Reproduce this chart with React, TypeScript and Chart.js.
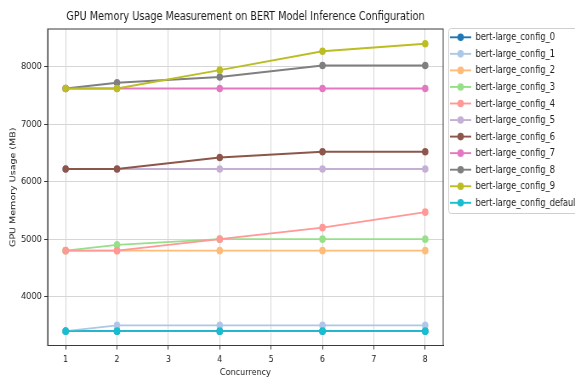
import React, { useEffect, useRef } from "react";
import { Chart, registerables } from "chart.js";

Chart.register(...registerables);

// ---- data ----
const concurrency = [1, 2, 4, 6, 8];
const seriesNames = [
  "bert-large_config_0",
  "bert-large_config_1",
  "bert-large_config_2",
  "bert-large_config_3",
  "bert-large_config_4",
  "bert-large_config_5",
  "bert-large_config_6",
  "bert-large_config_7",
  "bert-large_config_8",
  "bert-large_config_9",
  "bert-large_config_default",
];
const config0 = [3400, 3400, 3400, 3400, 3400];
const config1 = [3400, 3500, 3500, 3500, 3500];
const config2 = [4800, 4800, 4800, 4800, 4800];
const config3 = [4800, 4900, 5000, 5000, 5000];
const config4 = [4800, 4800, 5000, 5200, 5470];
const config5 = [6220, 6220, 6220, 6220, 6220];
const config6 = [6220, 6220, 6420, 6520, 6520];
const config7 = [7620, 7620, 7620, 7620, 7620];
const config8 = [7620, 7720, 7820, 8020, 8020];
const config9 = [7620, 7620, 7940, 8270, 8400];
const configDefault = [3400, 3400, 3400, 3400, 3400];
const seriesValues = [
  config0, config1, config2, config3, config4, config5,
  config6, config7, config8, config9, configDefault,
];
const seriesColors = [
  "#1f77b4", "#aec7e8", "#ffbb78", "#98df8a", "#ff9896", "#c5b0d5",
  "#8c564b", "#e377c2", "#7f7f7f", "#bcbd22", "#17becf",
];
const xTickValues = [1, 2, 3, 4, 5, 6, 7, 8];
const yTickValues = [4000, 5000, 6000, 7000, 8000];
const xRange = [0.65, 8.35];
const yRange = [3150, 8656];
const titleText = "GPU Memory Usage Measurement on BERT Model Inference Configuration";
const xTitle = "Concurrency";
const yTitle = "GPU Memory Usage (MB)";

// drawing space is wider than displayed (horizontal squeeze like the reference)
const CW = 676;
const CH = 380;
const FONT = '"DejaVu Sans", "Liberation Sans", sans-serif';
const TEXT = "#1a1a1a";

const decorPlugin = {
  id: "decor",
  afterDraw(chart: any) {
    const ctx: CanvasRenderingContext2D = chart.ctx;
    const a = chart.chartArea;
    ctx.save();
    // frame
    ctx.strokeStyle = "#3a3a3a";
    ctx.lineWidth = 1;
    ctx.strokeRect(a.left, a.top, a.right - a.left, a.bottom - a.top);
    // title
    ctx.fillStyle = TEXT;
    ctx.textAlign = "center";
    ctx.textBaseline = "middle";
    ctx.font = `11.4px ${FONT}`;
    ctx.fillText(titleText, (a.left + a.right) / 2, 17);
    // axis titles
    ctx.font = `9.5px ${FONT}`;
    ctx.fillText(xTitle, (a.left + a.right) / 2, 373);
    ctx.save();
    ctx.translate(16, (a.top + a.bottom) / 2);
    ctx.rotate(-Math.PI / 2);
    ctx.fillText(yTitle, 0, 0);
    ctx.restore();

    // legend
    const lx = a.right + 6;
    const ly = a.top - 1;
    const lw = 200;
    const lh = 185;
    ctx.fillStyle = "rgba(255,255,255,0.9)";
    ctx.strokeStyle = "#cfcfcf";
    ctx.lineWidth = 1;
    ctx.beginPath();
    (ctx as any).roundRect(lx + 0.5, ly + 0.5, lw, lh, 3);
    ctx.fill();
    ctx.stroke();
    ctx.font = `9.7px ${FONT}`;
    ctx.textAlign = "left";
    ctx.textBaseline = "middle";
    seriesNames.forEach((name, i) => {
      const y = ly + 9.3 + i * 16.55;
      ctx.strokeStyle = seriesColors[i];
      ctx.fillStyle = seriesColors[i];
      ctx.lineWidth = 1.9;
      ctx.beginPath();
      ctx.moveTo(lx + 2, y);
      ctx.lineTo(lx + 27, y);
      ctx.stroke();
      ctx.beginPath();
      ctx.arc(lx + 14.5, y, 3.8, 0, Math.PI * 2);
      ctx.fill();
      ctx.fillStyle = TEXT;
      ctx.fillText(name, lx + 32, y + 0.5);
    });
    ctx.restore();
  },
};

export default function App() {
  const ref = useRef<HTMLCanvasElement | null>(null);

  useEffect(() => {
    document.body.style.margin = "0";
    const canvas = ref.current;
    if (!canvas) return;
    const n = seriesNames.length;
    const chart = new Chart(canvas, {
      type: "line",
      data: {
        datasets: seriesNames.map((name, i) => ({
          label: name,
          data: concurrency.map((x, j) => ({ x, y: seriesValues[i][j] })),
          borderColor: seriesColors[i],
          backgroundColor: seriesColors[i],
          pointBackgroundColor: seriesColors[i],
          pointBorderColor: seriesColors[i],
          pointBorderWidth: 0,
          pointRadius: 3.8,
          borderWidth: 1.9,
          tension: 0,
          fill: false,
          order: n - i,
        })),
      },
      options: {
        animation: false,
        responsive: false,
        devicePixelRatio: 1,
        layout: { padding: { left: 0, right: CW - 521, top: 29, bottom: 0 } },
        plugins: {
          legend: { display: false },
          title: { display: false },
          tooltip: { enabled: false },
        },
        scales: {
          x: {
            type: "linear",
            min: xRange[0],
            max: xRange[1],
            afterBuildTicks: (s: any) => {
              s.ticks = xTickValues.map((v) => ({ value: v }));
            },
            afterFit: (s: any) => {
              s.height = CH - 345.5;
            },
            ticks: {
              color: TEXT,
              font: { family: FONT, size: 9.5 },
              padding: 4,
              maxRotation: 0,
              autoSkip: false,
              callback: (v: any) => String(v),
            },
            grid: {
              color: "#d6d6d6",
              lineWidth: 1,
              drawTicks: true,
              tickLength: 4,
              tickColor: "#3a3a3a",
            },
            border: { display: true, color: "#3a3a3a" },
          },
          y: {
            type: "linear",
            min: yRange[0],
            max: yRange[1],
            afterBuildTicks: (s: any) => {
              s.ticks = yTickValues.map((v) => ({ value: v }));
            },
            afterFit: (s: any) => {
              s.width = 56;
            },
            ticks: {
              color: TEXT,
              font: { family: FONT, size: 9.5 },
              padding: 3,
              autoSkip: false,
              callback: (v: any) => String(v),
            },
            grid: {
              color: "#d6d6d6",
              lineWidth: 1,
              drawTicks: true,
              tickLength: 4,
              tickColor: "#3a3a3a",
            },
            border: { display: true, color: "#3a3a3a" },
          },
        },
      },
      plugins: [decorPlugin],
    } as any);
    return () => chart.destroy();
  }, []);

  return (
    <canvas
      ref={ref}
      width={CW}
      height={CH}
      style={{ width: "575px", height: "380px", display: "block" }}
    />
  );
}
